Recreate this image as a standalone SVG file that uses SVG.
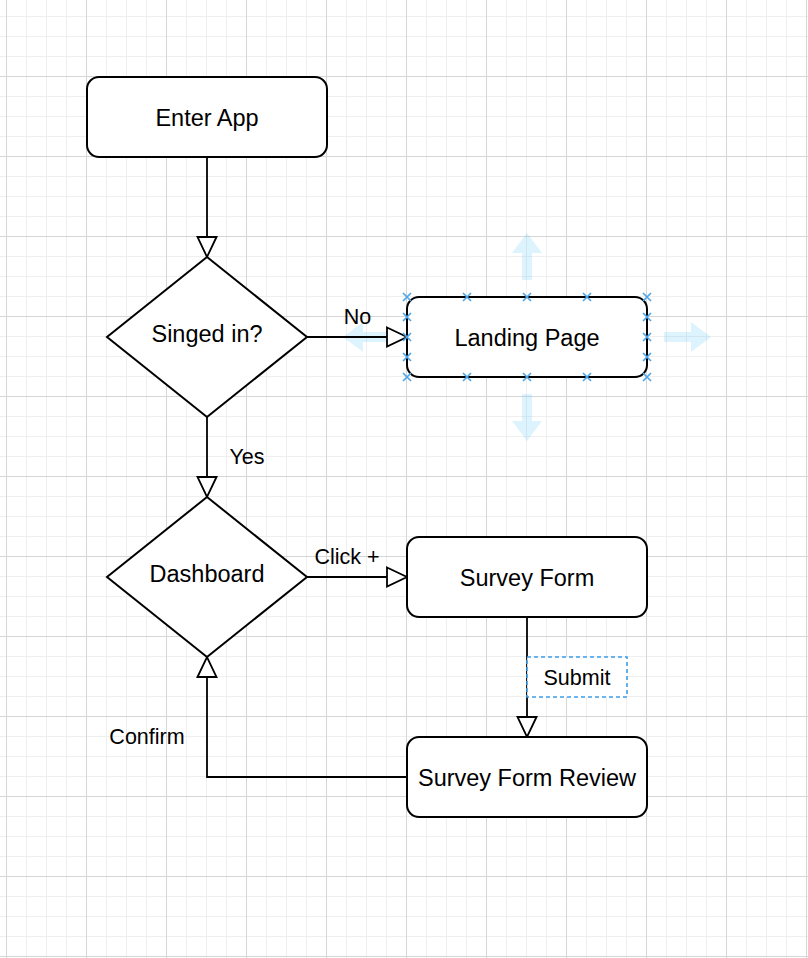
<svg xmlns="http://www.w3.org/2000/svg" width="808" height="958" viewBox="0 0 808 958">
<defs>
<pattern id="gMinor" patternUnits="userSpaceOnUse" x="6" y="16" width="20" height="20">
<path d="M0.5 0V20M0 0.5H20" stroke="#efefef" stroke-width="1" fill="none"/>
</pattern>
<pattern id="gMajor" patternUnits="userSpaceOnUse" x="6" y="76" width="80" height="80">
<path d="M0.5 0V80M0 0.5H80" stroke="#d6d6d6" stroke-width="1" fill="none"/>
</pattern>
<marker id="tri" markerUnits="userSpaceOnUse" viewBox="-2 -2 24 23" refX="0" refY="9.5" markerWidth="24" markerHeight="23" orient="auto" overflow="visible">
<path d="M0 0L20 9.5L0 19Z" fill="#fff" stroke="#000" stroke-width="1.8"/>
</marker>
<g id="xm"><path d="M-4 -4L4 4M-4 4L4 -4" stroke="#4da6e8" stroke-width="1.7" fill="none"/></g>
</defs>
<style>
.box{fill:#fff;stroke:#000;stroke-width:2}
.t{font-family:"Liberation Sans",Arial,Helvetica,sans-serif;font-size:23.5px;fill:#000;text-anchor:middle}
.lbl{font-family:"Liberation Sans",Arial,Helvetica,sans-serif;font-size:21.5px;fill:#000;text-anchor:middle}
.edge{fill:none;stroke:#000;stroke-width:1.8;marker-end:url(#tri)}
.hov{fill:#29b6f2;fill-opacity:0.16}
</style>
<rect width="808" height="958" fill="#fff"/>
<rect width="808" height="958" fill="url(#gMinor)"/>
<rect width="808" height="958" fill="url(#gMajor)"/>

<g id="hover-arrows">
<path class="hov" d="M522 280V253H512L527 233L542 253H532V280Z"/>
<path class="hov" d="M522 394V421H512L527 441L542 421H532V394Z"/>
<path class="hov" d="M664 332H691V322L711 337L691 352V342H664Z"/>
<path class="hov" d="M390 332H363V322L343 337L363 352V342H390Z"/>
</g>

<g id="connectors">
<path class="edge" d="M207 157V237"/>
<path class="edge" d="M307 337H387"/>
<path class="edge" d="M207 417V477"/>
<path class="edge" d="M307 577H387"/>
<path class="edge" d="M527 617V717"/>
<path class="edge" d="M407 777H207V677"/>
</g>

<g id="node-enter-app">
<rect class="box" x="87" y="77" width="240" height="80" rx="12"/>
<text class="t" x="207" y="125.5">Enter App</text>
</g>
<g id="node-signed-in">
<path class="box" d="M207 257L307 337L207 417L107 337Z"/>
<text class="t" x="207" y="342">Singed in?</text>
</g>
<g id="node-landing-page">
<rect class="box" x="407" y="297" width="240" height="80" rx="12"/>
<text class="t" x="527" y="345.5">Landing Page</text>
<g id="landing-connection-points">
<use href="#xm" x="407" y="297"/><use href="#xm" x="467" y="297"/><use href="#xm" x="527" y="297"/><use href="#xm" x="587" y="297"/><use href="#xm" x="647" y="297"/>
<use href="#xm" x="407" y="377"/><use href="#xm" x="467" y="377"/><use href="#xm" x="527" y="377"/><use href="#xm" x="587" y="377"/><use href="#xm" x="647" y="377"/>
<use href="#xm" x="407" y="317"/><use href="#xm" x="407" y="337"/><use href="#xm" x="407" y="357"/>
<use href="#xm" x="647" y="317"/><use href="#xm" x="647" y="337"/><use href="#xm" x="647" y="357"/>
</g>
</g>
<g id="node-dashboard">
<path class="box" d="M207 497L307 577L207 657L107 577Z"/>
<text class="t" x="207" y="582">Dashboard</text>
</g>
<g id="node-survey-form">
<rect class="box" x="407" y="537" width="240" height="80" rx="12"/>
<text class="t" x="527" y="585.5">Survey Form</text>
</g>
<g id="node-survey-form-review">
<rect class="box" x="407" y="737" width="240" height="80" rx="12"/>
<text class="t" x="527" y="785.5">Survey Form Review</text>
</g>

<g id="edge-labels">
<text class="lbl" x="357.5" y="324">No</text>
<text class="lbl" x="247" y="464">Yes</text>
<text class="lbl" x="347" y="564">Click +</text>
<text class="lbl" x="147" y="744">Confirm</text>
<g id="submit-label">
<rect x="527" y="657" width="100" height="40" fill="#fff" fill-opacity="0.85" stroke="#3d9ee8" stroke-width="1.6" stroke-dasharray="4 3"/>
<text class="lbl" x="577" y="685">Submit</text>
</g>
</g>
</svg>
